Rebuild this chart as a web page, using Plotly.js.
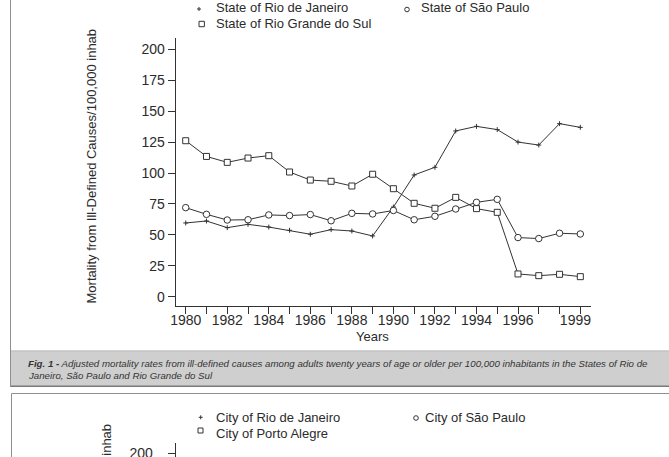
<!DOCTYPE html>
<html>
<head>
<meta charset="utf-8">
<script src="https://cdn.plot.ly/plotly-3.0.1.min.js"></script>
<style>
  html, body { margin: 0; padding: 0; background: #fff; }
  #chart { width: 669px; height: 457px; }
</style>
</head>
<body>
<div id="chart"></div>
<script>
// Adjusted mortality from ill-defined causes, adults 20+, per 100,000 inhabitants
const years = [1980, 1981, 1982, 1983, 1984, 1985, 1986, 1987, 1988, 1989,
               1990, 1991, 1992, 1993, 1994, 1995, 1996, 1997, 1998, 1999];
const rioDeJaneiro = [59.6, 61.2, 55.8, 58.5, 56.3, 53.7, 50.5, 54.2, 53.1, 49.1,
                      72.5, 98.4, 104.6, 134.0, 137.7, 135.1, 125.0, 122.6, 139.9, 136.9];
const saoPaulo = [72.0, 66.6, 62.0, 62.2, 66.1, 65.6, 66.4, 61.4, 67.4, 66.9,
                  69.7, 62.2, 65.0, 70.9, 76.3, 78.7, 47.8, 47.0, 51.3, 50.7];
const rioGrandeDoSul = [126.1, 113.4, 108.6, 112.1, 114.0, 100.8, 94.3, 93.3, 89.5, 99.0,
                        87.3, 75.5, 71.5, 80.3, 71.2, 68.2, 18.4, 17.0, 18.1, 16.2];

const xTickText = ['1980', '', '1982', '', '1984', '', '1986', '', '1988', '',
                   '1990', '', '1992', '', '1994', '', '1996', '', '', '1999\u2002\u2009'];
const yTicks = [0, 25, 50, 75, 100, 125, 150, 175, 200];

const seriesNames = ['State of Rio de Janeiro', 'State of São Paulo', 'State of Rio Grande do Sul'];
const cityNames = ['City of Rio de Janeiro', 'City of São Paulo', 'City of Porto Alegre'];
const yTitle = 'Mortality from Ill-Defined Causes/100,000 inhab';
const xTitle = 'Years';
const captionLine1 = '<b>Fig. 1 -</b> Adjusted mortality rates from ill-defined causes among adults twenty years of age or older per 100,000 inhabitants in the States of Rio de';
const captionLine2 = 'Janeiro, São Paulo and Rio Grande do Sul';

const W = 669, H = 457;
const px = x => x / W;
const py = y => 1 - y / H;

const FONT = 'Liberation Sans, Arial, Helvetica, sans-serif';
const INK = '#2b2b2b';
const LINE = '#333333';

function series(y, symbol, size) {
  return {
    x: years, y: y, type: 'scatter', mode: 'lines+markers',
    line: { color: LINE, width: 1 },
    marker: {
      symbol: symbol, size: size,
      color: symbol === 'cross-thin-open' ? LINE : '#ffffff',
      line: { color: LINE, width: 1 }
    },
    hoverinfo: 'skip', cliponaxis: false
  };
}

const traces = [
  series(rioDeJaneiro, 'cross-thin-open', 3.5),
  series(saoPaulo, 'circle', 6.5),
  series(rioGrandeDoSul, 'square', 6),
  // second panel (city figure), only its top edge is in view
  { x: [], y: [], type: 'scatter', xaxis: 'x2', yaxis: 'y2', hoverinfo: 'skip' }
];

const tickFont = { family: FONT, size: 14, color: INK };

const layout = {
  width: W, height: H,
  margin: { l: 0, r: 0, t: 0, b: 0, pad: 0 },
  paper_bgcolor: '#ffffff', plot_bgcolor: '#ffffff',
  showlegend: false,
  xaxis: {
    domain: [px(175.7), px(590.7)],
    range: [1979.518, 1999.5],
    tickmode: 'array', tickvals: years, ticktext: xTickText,
    ticks: 'outside', ticklen: 7, tickwidth: 1, tickcolor: LINE,
    showline: true, linecolor: LINE, linewidth: 1,
    showgrid: false, zeroline: false,
    tickfont: tickFont, anchor: 'y', fixedrange: true,
    ticklabelstandoff: -6
  },
  yaxis: {
    domain: [py(305.7), py(38.3)],
    range: [-7.28, 208.9],
    tickmode: 'array', tickvals: yTicks,
    ticks: 'outside', ticklen: 7, tickwidth: 1, tickcolor: LINE,
    showline: true, linecolor: LINE, linewidth: 1,
    showgrid: false, zeroline: false,
    tickfont: tickFont, anchor: 'x', fixedrange: true
  },
  xaxis2: {
    domain: [px(175.7), px(590.7)], range: [1979.518, 1999.5],
    visible: false, anchor: 'y2', fixedrange: true
  },
  yaxis2: {
    domain: [0, py(443)],
    range: [196.8, 208.1],
    tickmode: 'array', tickvals: [200],
    ticks: 'outside', ticklen: 7, tickwidth: 1, tickcolor: LINE,
    showline: true, linecolor: LINE, linewidth: 1,
    showgrid: false, zeroline: false,
    tickfont: tickFont, anchor: 'x2', fixedrange: true,
    ticklabelstandoff: 12, ticklabeloverflow: 'allow'
  },
  annotations: [],
  shapes: []
};

const txt = (text, x, y, opts) => Object.assign({
  text: text, x: px(x), y: py(y), xref: 'paper', yref: 'paper',
  showarrow: false, xanchor: 'left', yanchor: 'middle', borderpad: 0,
  font: { family: FONT, size: 13, color: INK }
}, opts || {});

// axis titles
layout.annotations.push(txt(yTitle, 91, 166.5, { xanchor: 'center', textangle: -90 }));
layout.annotations.push(txt(xTitle, 372, 336.5, { xanchor: 'center' }));
// legend labels, upper figure
layout.annotations.push(txt(seriesNames[0], 215, 7.5));
layout.annotations.push(txt(seriesNames[1], 420, 7.5));
layout.annotations.push(txt(seriesNames[2], 215, 23.5));
// caption
const capFont = { family: FONT, size: 9.7, color: '#333333' };
layout.annotations.push(txt('<i>' + captionLine1 + '</i>', 26.5, 363.3, { font: capFont }));
layout.annotations.push(txt('<i>' + captionLine2 + '</i>', 26.5, 375, { font: capFont }));
// lower figure: legend labels and axis title
layout.annotations.push(txt(cityNames[0], 215, 417.5));
layout.annotations.push(txt(cityNames[1], 424, 417.5));
layout.annotations.push(txt(cityNames[2], 215, 433));
layout.annotations.push(txt(yTitle, 106, 423, { xanchor: 'center', yanchor: 'top', textangle: -90 }));

const P = 'paper';
const seg = (x0, y0, x1, y1, color, width) => ({
  type: 'line', xref: P, yref: P, x0: px(x0), y0: py(y0), x1: px(x1), y1: py(y1),
  line: { color: color, width: width }
});
const box = (x0, y0, x1, y1, fill, lineColor, lw) => ({
  type: 'rect', xref: P, yref: P, x0: px(x0), y0: py(y0), x1: px(x1), y1: py(y1),
  fillcolor: fill, line: { color: lineColor, width: lw }
});
const ring = (cx, cy, r) => ({
  type: 'circle', xref: P, yref: P, x0: px(cx - r), y0: py(cy + r), x1: px(cx + r), y1: py(cy - r),
  fillcolor: 'rgba(0,0,0,0)', line: { color: LINE, width: 1 }
});
const plus = (cx, cy, a) => [seg(cx - a, cy, cx + a, cy, LINE, 1), seg(cx, cy - a, cx, cy + a, LINE, 1)];

// figure frames and caption band
layout.shapes.push(box(10.5, 350.5, 672, 386, '#cfcfcf', 'rgba(0,0,0,0)', 0));
layout.shapes.push(seg(10.5, 351, 672, 351, '#bdbdbd', 1));
layout.shapes.push(seg(10.5, 386.3, 672, 386.3, '#7a7a7a', 1.5));
layout.shapes.push(seg(10.5, -2, 10.5, 387, '#8f8f8f', 1));
layout.shapes.push(seg(11.5, 393.5, 672, 393.5, '#8f8f8f', 1));
layout.shapes.push(seg(11.5, 393.5, 11.5, 460, '#8f8f8f', 1));

// legend symbols
layout.shapes.push(...plus(199, 9, 2));
layout.shapes.push(ring(407, 9.5, 2.3));
layout.shapes.push(box(199, 21.3, 204.4, 26.7, 'rgba(0,0,0,0)', LINE, 1));
layout.shapes.push(...plus(200.7, 417.3, 2));
layout.shapes.push(ring(416, 418, 2.3));
layout.shapes.push(box(198, 428, 203, 433, 'rgba(0,0,0,0)', LINE, 1));

Plotly.newPlot('chart', traces, layout, { staticPlot: true, displayModeBar: false });
</script>
</body>
</html>
